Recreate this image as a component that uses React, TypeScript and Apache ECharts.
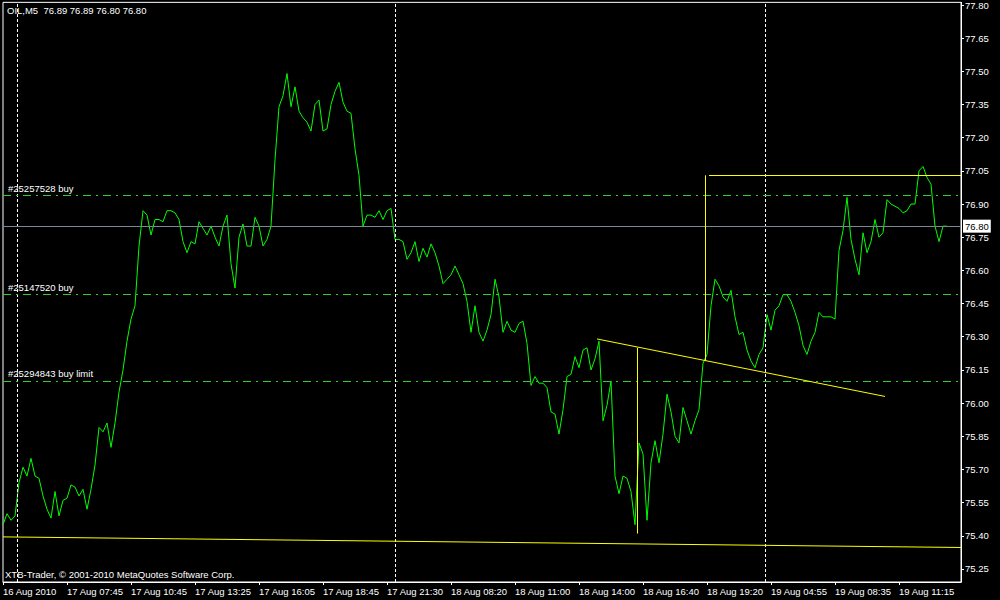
import React, { useEffect, useRef } from "react";
import * as echarts from "echarts";

// Sampled close prices, one value every BAR_STEP M5 bars
const BAR_STEP = 2;
const LAST_BAR = 479;
const closes = [
  75.45, 75.50, 75.47, 75.49, 75.64, 75.71, 75.67, 75.75, 75.67, 75.66,
  75.58, 75.52, 75.48, 75.60, 75.49, 75.56, 75.57, 75.63, 75.62, 75.58,
  75.61, 75.52, 75.61, 75.72, 75.89, 75.87, 75.91, 75.80, 75.91, 76.05,
  76.15, 76.28, 76.38, 76.44, 76.71, 76.87, 76.85, 76.76, 76.83, 76.83,
  76.82, 76.87, 76.87, 76.86, 76.83, 76.73, 76.68, 76.73, 76.72, 76.82,
  76.79, 76.76, 76.80, 76.75, 76.71, 76.80, 76.85, 76.63, 76.52, 76.75,
  76.81, 76.71, 76.71, 76.84, 76.80, 76.71, 76.74, 76.80, 77.10, 77.34,
  77.39, 77.49, 77.34, 77.43, 77.32, 77.29, 77.27, 77.23, 77.35, 77.37,
  77.23, 77.24, 77.35, 77.41, 77.45, 77.36, 77.32, 77.31, 77.15, 77.03,
  76.80, 76.85, 76.85, 76.84, 76.87, 76.83, 76.87, 76.88, 76.74, 76.74,
  76.73, 76.65, 76.68, 76.73, 76.64, 76.70, 76.66, 76.72, 76.68, 76.62,
  76.54, 76.56, 76.58, 76.62, 76.58, 76.54, 76.46, 76.32, 76.44, 76.32,
  76.28, 76.33, 76.40, 76.56, 76.48, 76.32, 76.37, 76.33, 76.32, 76.36,
  76.37, 76.27, 76.08, 76.12, 76.09, 76.09, 76.07, 75.96, 75.95, 75.86,
  75.97, 76.12, 76.13, 76.21, 76.16, 76.24, 76.25, 76.15, 76.20, 76.28,
  75.92, 75.99, 76.10, 75.67, 75.59, 75.67, 75.66, 75.60, 75.45, 75.82,
  75.77, 75.47, 75.73, 75.83, 75.73, 75.86, 76.04, 75.96, 75.85, 75.82,
  75.98, 75.92, 75.86, 75.92, 75.97, 76.18, 76.22, 76.44, 76.56, 76.53,
  76.48, 76.46, 76.51, 76.39, 76.31, 76.32, 76.24, 76.19, 76.16, 76.22,
  76.25, 76.40, 76.33, 76.42, 76.44, 76.49, 76.49, 76.46, 76.41, 76.35,
  76.26, 76.22, 76.28, 76.32, 76.41, 76.39, 76.39, 76.39, 76.38, 76.69,
  76.78, 76.93, 76.74, 76.65, 76.58, 76.77, 76.68, 76.73, 76.83, 76.75,
  76.77, 76.92, 76.90, 76.89, 76.88, 76.86, 76.87, 76.90, 76.90, 77.05,
  77.07, 77.02, 76.99, 76.80, 76.73, 76.80, 76.80,
];

const timeTickBars = [0, 32, 64, 96, 128, 160, 192, 224, 256, 288, 320, 352, 384, 416, 448];
const timeLabels = [
  "16 Aug 2010", "17 Aug 07:45", "17 Aug 10:45", "17 Aug 13:25", "17 Aug 16:05",
  "17 Aug 18:45", "17 Aug 21:30", "18 Aug 08:20", "18 Aug 11:00", "18 Aug 14:00",
  "18 Aug 16:40", "18 Aug 19:20", "19 Aug 04:55", "19 Aug 08:35", "19 Aug 11:15",
];
const priceTicks = [
  75.25, 75.4, 75.55, 75.7, 75.85, 76.0, 76.15, 76.3, 76.45, 76.6,
  76.75, 76.9, 77.05, 77.2, 77.35, 77.5, 77.65, 77.8,
];
const PRICE_MIN = 75.191;
const PRICE_MAX = 77.812;

const daySeparatorBars = [7, 196, 381];
const bidPrice = 76.8;
const orderNames = ["#25257528 buy", "#25147520 buy", "#25294843 buy limit"];
const orderPrices = [76.94, 76.49, 76.1];
// Drawn objects: [barIndex, price] endpoints
const trendLines = [
  [[0, 75.395], [479, 75.347]],
  [[297, 76.29], [441, 76.03]],
  [[317, 76.25], [317, 75.41]],
  [[351, 77.03], [351, 76.19]],
  [[353, 77.03], [479, 77.03]],
];
const headerText = "OIL,M5  76.89 76.89 76.80 76.80";
const footerText = "XTB-Trader, \u00A9 2001-2010 MetaQuotes Software Corp.";

const FONT = "'Liberation Sans', Arial, sans-serif";

export default function App() {
  const ref = useRef<HTMLDivElement>(null);

  useEffect(() => {
    if (!ref.current) return;
    const chart = echarts.init(ref.current, undefined, { renderer: "svg" });

    const markData: any[] = [];
    daySeparatorBars.forEach((b) => {
      markData.push({
        xAxis: b,
        lineStyle: { color: "#ffffff", type: [3, 2], width: 1 },
        label: { show: false },
      });
    });
    orderPrices.forEach((p, i) => {
      markData.push({
        yAxis: p,
        lineStyle: { color: "#32cd32", type: [8, 5, 2, 5], width: 1 },
        label: {
          show: true,
          position: "insideStartTop",
          formatter: orderNames[i],
          color: "#ffffff",
          fontSize: 9.5,
          fontFamily: FONT,
          distance: [5, 2],
        },
      });
    });
    markData.push({
      yAxis: bidPrice,
      lineStyle: { color: "#778899", type: "solid", width: 1 },
      label: {
        show: true,
        position: "end",
        formatter: bidPrice.toFixed(2),
        color: "#000000",
        backgroundColor: "#ffffff",
        padding: [2, 2, 1, 2],
        distance: 2,
        fontSize: 9.5,
        fontFamily: FONT,
      },
    });

    const trendData = trendLines.map((seg) => [{ coord: seg[0] }, { coord: seg[1] }]);

    chart.setOption({
      animation: false,
      backgroundColor: "#000000",
      textStyle: { fontFamily: FONT },
      grid: {
        left: 3,
        right: 39,
        top: 2,
        bottom: 18,
        show: true,
        borderColor: "#ffffff",
        borderWidth: 1,
        backgroundColor: "transparent",
      },
      xAxis: {
        type: "value",
        min: 0,
        max: LAST_BAR,
        position: "bottom",
        axisLine: { show: true, onZero: false, lineStyle: { color: "#ffffff", width: 1 } },
        axisTick: { show: true, customValues: timeTickBars, length: 3, lineStyle: { color: "#ffffff" } },
        axisLabel: {
          customValues: timeTickBars,
          formatter: (v: number) => {
            const i = timeTickBars.indexOf(Math.round(v));
            return i >= 0 ? timeLabels[i] : "";
          },
          color: "#ffffff",
          fontSize: 9.5,
          fontFamily: FONT,
          align: "left",
          margin: 4,
        },
        splitLine: { show: false },
      },
      yAxis: {
        type: "value",
        position: "right",
        min: PRICE_MIN,
        max: PRICE_MAX,
        axisLine: { show: true, onZero: false, lineStyle: { color: "#ffffff", width: 1 } },
        axisTick: { show: true, customValues: priceTicks, length: 3, lineStyle: { color: "#ffffff" } },
        axisLabel: {
          customValues: priceTicks,
          formatter: (v: number) => v.toFixed(2),
          color: "#ffffff",
          fontSize: 9.5,
          fontFamily: FONT,
          margin: 4,
        },
        splitLine: { show: false },
      },
      graphic: [
        {
          type: "text",
          left: 7,
          top: 5,
          style: { text: headerText, fill: "#ffffff", font: `9.5px ${FONT}` },
        },
        {
          type: "text",
          left: 5,
          top: 569,
          style: { text: footerText, fill: "#ffffff", font: `9.5px ${FONT}` },
        },
      ],
      series: [
        {
          type: "line",
          data: closes.map((c, k) => [k * BAR_STEP, c]),
          showSymbol: false,
          symbol: "none",
          lineStyle: { color: "#00ff00", width: 1 },
          silent: true,
          z: 3,
          markLine: {
            silent: true,
            symbol: ["none", "none"],
            animation: false,
            data: markData,
          },
        },
        {
          type: "line",
          data: [],
          silent: true,
          z: 4,
          markLine: {
            silent: true,
            symbol: ["none", "none"],
            animation: false,
            label: { show: false },
            lineStyle: { color: "#ffff00", type: "solid", width: 1, opacity: 1 },
            emphasis: { disabled: true },
            data: trendData,
          },
        },
      ],
    });

    return () => chart.dispose();
  }, []);

  return (
    <div
      ref={ref}
      style={{ position: "absolute", left: 0, top: 0, width: 1000, height: 600, background: "#000" }}
    />
  );
}
